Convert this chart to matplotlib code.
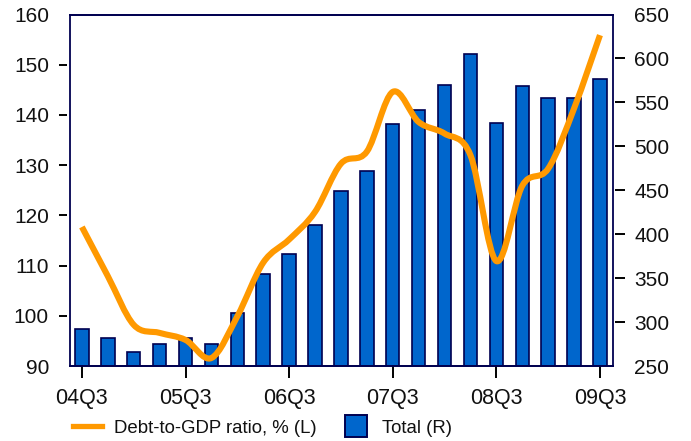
import numpy as np
import matplotlib.pyplot as plt
from matplotlib.path import Path
from matplotlib.patches import PathPatch
from matplotlib.lines import Line2D

plt.rcParams['font.family'] = ['Liberation Sans', 'DejaVu Sans']

# quarterly data, 04Q3 .. 09Q3
quarters = ['04Q3', '04Q4', '05Q1', '05Q2', '05Q3', '05Q4', '06Q1', '06Q2',
            '06Q3', '06Q4', '07Q1', '07Q2', '07Q3', '07Q4', '08Q1', '08Q2',
            '08Q3', '08Q4', '09Q1', '09Q2', '09Q3']
total = [292, 282, 266, 275, 282, 275, 310, 355, 378, 410, 449,
         472, 525, 541, 570, 605, 527, 569, 555, 555, 577]
debt_ratio = [117.7, 107.9, 98.2, 96.6, 95.2, 91.6, 99.9, 110.6, 115.2,
              120.7, 130.3, 132.7, 144.6, 138.6, 136.3, 132.0, 110.9,
              125.9, 129.3, 141.3, 155.9]
xlabels = ['04Q3', '05Q3', '06Q3', '07Q3', '08Q3', '09Q3']

navy = '#000050'
blue = '#0066CC'
orange = '#FF9900'
txt = '#111111'

fig = plt.figure(figsize=(6.91, 4.41), dpi=100)
ax = fig.add_axes([0.1013, 0.170, 0.7857, 0.797])
ax2 = ax.twinx()

x = np.arange(len(quarters))

# bars on right axis
ax2.bar(x, total, width=0.52, color=blue, edgecolor=navy, linewidth=1.2)
ax2.set_ylim(250, 650)
ax2.set_yticks(np.arange(250, 651, 50))

# smooth line on left axis (catmull-rom segments as bezier curves)
pts = np.column_stack([x, debt_ratio]).astype(float)
ext = np.vstack([pts[0], pts, pts[-1]])
verts = [tuple(pts[0])]
codes = [Path.MOVETO]
for i in range(len(pts) - 1):
    p0, p1, p2, p3 = ext[i], ext[i + 1], ext[i + 2], ext[i + 3]
    c1 = p1 + (p2 - p0) / 6
    c2 = p2 - (p3 - p1) / 6
    verts += [tuple(c1), tuple(c2), tuple(p2)]
    codes += [Path.CURVE4] * 3
ax.add_patch(PathPatch(Path(verts, codes), facecolor='none', edgecolor=orange,
                       linewidth=4.4, capstyle='butt', joinstyle='round'))
ax.set_ylim(90, 160)
ax.set_yticks(np.arange(90, 161, 10))
ax.set_xlim(-0.46, 20.5)
ax.set_xticks([quarters.index(q) for q in xlabels])
ax.set_xticklabels(xlabels)

ax.set_zorder(ax2.get_zorder() + 1)
ax.patch.set_visible(False)

# frame: top/bottom/right from ax, left from ax2; value-axis ticks sit
# slightly away from the frame
for a in (ax, ax2):
    for s in a.spines.values():
        s.set_color(navy)
        s.set_linewidth(1.3)
ax.spines['left'].set_position(('outward', 2.2))
ax.spines['left'].set_color('none')
ax2.spines['right'].set_position(('outward', 1.5))
ax2.spines['right'].set_color('none')

for a in (ax, ax2):
    a.tick_params(labelsize=15, width=1.4, color='black', labelcolor=txt)
ax.tick_params(axis='x', labelsize=15.5, length=8.6, pad=7)
ax.tick_params(axis='y', length=6, pad=7)
ax2.tick_params(axis='y', length=7, pad=7)

# no tick marks at the ends of the value axes
for a in (ax, ax2):
    ticks = a.yaxis.get_major_ticks()
    for t in (ticks[0], ticks[-1]):
        t.tick1line.set_visible(False)
        t.tick2line.set_visible(False)

handles = [Line2D([], [], color=orange, linewidth=3.8),
           Line2D([], [], linestyle='none', marker='s', markersize=16,
                  markerfacecolor=blue, markeredgecolor=navy, markeredgewidth=1.4)]
fig.legend(handles, ['Debt-to-GDP ratio, % (L)', 'Total (R)'],
           loc='center left', bbox_to_anchor=(0.1056, 0.0295), ncol=2,
           frameon=False, fontsize=13.4, handlelength=1.56, handletextpad=0.65,
           columnspacing=1.32, borderaxespad=0, borderpad=0, labelcolor=txt)

fig.savefig('out.png', dpi=100)
